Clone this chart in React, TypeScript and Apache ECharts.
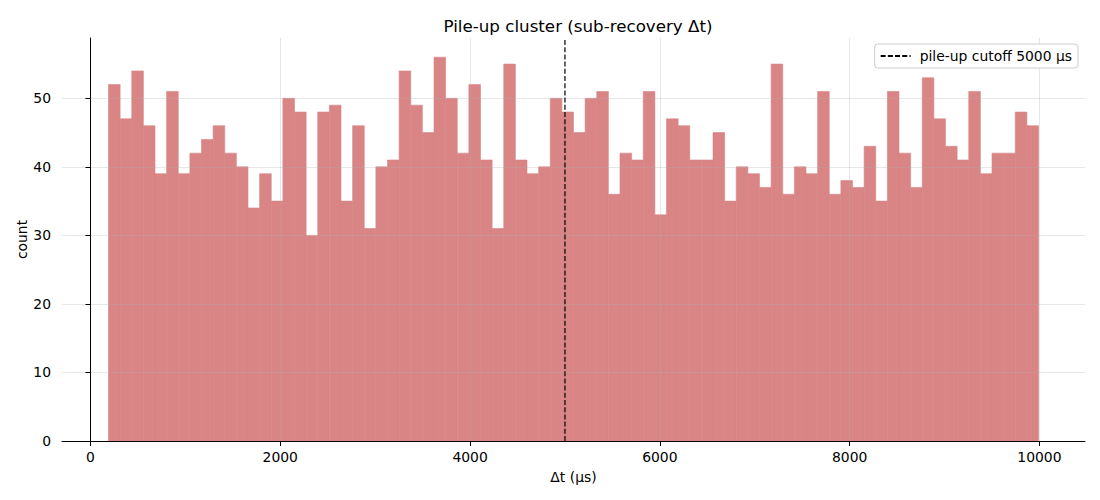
import React, { useEffect, useRef } from "react";
import * as echarts from "echarts";

// Histogram bins: 80 equal-width bins starting at binStart
const binStart = 190;
const binWidth = 122.5;
const counts = [
  52, 47, 54, 46, 39, 51, 39, 42, 44, 46, 42, 40, 34, 39, 35, 50, 48, 30, 48, 49,
  35, 46, 31, 40, 41, 54, 49, 45, 56, 50, 42, 52, 41, 31, 55, 41, 39, 40, 50, 48,
  45, 50, 51, 36, 42, 41, 51, 33, 47, 46, 41, 41, 45, 35, 40, 39, 37, 55, 36, 40,
  39, 51, 36, 38, 37, 43, 35, 51, 42, 37, 53, 47, 43, 41, 51, 39, 42, 42, 48, 46,
];
const cutoff = 5000;
const cutoffLabel = "pile-up cutoff 5000 μs";
const xTicks = [0, 2000, 4000, 6000, 8000, 10000];
const yTicks = [0, 10, 20, 30, 40, 50];
const xMin = -300;
const xMax = 10480;
const yMax = 58.8;

const FONT = "DejaVu Sans";
const TICK_FS = 13.9;

export default function App() {
  const ref = useRef<HTMLDivElement>(null);
  useEffect(() => {
    if (!ref.current) return;
    const chart = echarts.init(ref.current, null, { renderer: "svg" });
    const histData = counts.map((c, i) => [
      binStart + i * binWidth,
      binStart + (i + 1) * binWidth,
      c,
    ]);
    const gridColor = "rgba(176,176,176,0.3)";
    const barColor = "#d98585";
    chart.setOption({
      animation: false,
      textStyle: { fontFamily: FONT },
      title: {
        text: "Pile-up cluster (sub-recovery Δt)",
        left: 573,
        textAlign: "center",
        top: 12,
        textStyle: { fontFamily: FONT, fontSize: 16.7, fontWeight: "normal", color: "#000" },
      },
      grid: { left: 62, right: 15, top: 38, bottom: 59, containLabel: false },
      legend: {
        right: 22,
        top: 44,
        data: [cutoffLabel],
        backgroundColor: "#fff",
        borderColor: "#cccccc",
        borderWidth: 1,
        borderRadius: 3,
        padding: [5, 6, 5, 5],
        itemWidth: 30,
        itemHeight: 2,
        itemStyle: { opacity: 0 },
        textStyle: { fontFamily: FONT, fontSize: TICK_FS, color: "#000", padding: [0, 0, 0, 4] },
      },
      xAxis: {
        type: "value",
        min: xMin,
        max: xMax,
        name: "Δt (μs)",
        nameLocation: "middle",
        nameGap: 29,
        nameMoveOverlap: false,
        nameTextStyle: { fontFamily: FONT, fontSize: TICK_FS, color: "#000" },
        axisLine: { onZero: false, lineStyle: { color: "#000", width: 1 } },
        axisTick: { show: true, length: 5, customValues: xTicks, lineStyle: { color: "#000" } },
        axisLabel: {
          customValues: xTicks,
          margin: 9,
          fontSize: TICK_FS,
          color: "#000",
          fontFamily: FONT,
          formatter: (v: number) => String(v),
        },
        splitLine: { show: true, lineStyle: { color: gridColor, width: 1 } },
      },
      yAxis: {
        type: "value",
        min: 0,
        max: yMax,
        name: "count",
        nameLocation: "middle",
        nameGap: 33,
        nameMoveOverlap: false,
        nameTextStyle: { fontFamily: FONT, fontSize: TICK_FS, color: "#000" },
        axisLine: { show: true, lineStyle: { color: "#000", width: 1 } },
        axisTick: { show: true, length: 5, customValues: yTicks, lineStyle: { color: "#000" } },
        axisLabel: { customValues: yTicks, margin: 11, fontSize: TICK_FS, color: "#000", fontFamily: FONT },
        splitLine: { show: true, lineStyle: { color: gridColor, width: 1 } },
      },
      series: [
        {
          type: "custom",
          name: "hist",
          data: histData,
          encode: { x: [0, 1], y: 2 },
          renderItem: (params: any, api: any) => {
            const p0 = api.coord([api.value(0), api.value(2)]);
            const p1 = api.coord([api.value(1), 0]);
            return {
              type: "rect",
              shape: { x: p0[0], y: p0[1], width: p1[0] - p0[0], height: p1[1] - p0[1] },
              style: { fill: barColor, stroke: barColor, lineWidth: 0.6 },
            };
          },
          z: -1,
        },
        {
          type: "line",
          name: cutoffLabel,
          data: [
            [cutoff, 0],
            [cutoff, yMax],
          ],
          symbol: "none",
          lineStyle: { color: "#000", width: 1.2, type: [5, 2.2] },
          itemStyle: { color: "#000" },
          z: 3,
        },
      ],
    });
    return () => chart.dispose();
  }, []);
  return (
    <div
      ref={ref}
      style={{ position: "absolute", left: 0, top: 0, width: 1100, height: 500 }}
    />
  );
}
